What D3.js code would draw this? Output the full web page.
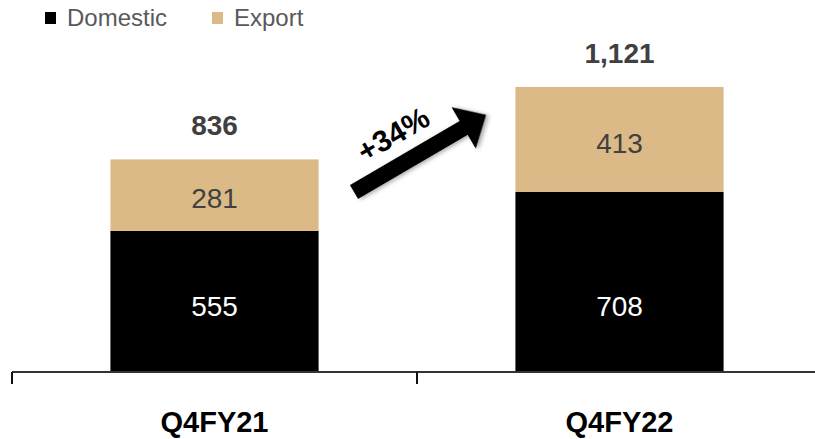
<!DOCTYPE html>
<html>
<head>
<meta charset="utf-8">
<script src="https://cdn.jsdelivr.net/npm/d3@7"></script>
<style>
  body { margin: 0; background: #fff; }
  svg { display: block; font-family: "Liberation Sans", Arial, sans-serif; }
</style>
</head>
<body>
<script>
// chart data
const categories = ["Q4FY21", "Q4FY22"];
const domestic = [555, 708];
const exportVals = [281, 413];
const totals = ["836", "1,121"];
const seriesNames = ["Domestic", "Export"];
const growthLabel = "+34%";

const W = 815, H = 439;
const colors = { Domestic: "#000000", Export: "#dbba87" };

const svg = d3.select("body").append("svg").attr("width", W).attr("height", H);

// scales
const x = d3.scaleBand().domain(categories).range([12, 822])
  .paddingInner(0.486).paddingOuter(0.243);
const y = d3.scaleLinear().domain([0, 1400]).range([372, 16]);

const rows = categories.map((c, i) => ({
  cat: c, Domestic: domestic[i], Export: exportVals[i], total: totals[i]
}));
const stacked = d3.stack().keys(seriesNames)(rows);

// bars
svg.append("g").selectAll("g")
  .data(stacked)
  .join("g")
  .attr("fill", d => colors[d.key])
  .selectAll("rect")
  .data(d => d)
  .join("rect")
  .attr("x", d => x(d.data.cat))
  .attr("y", d => y(d[1]))
  .attr("width", x.bandwidth())
  .attr("height", d => y(d[0]) - y(d[1]));

// segment labels (domestic labels sit at a common height near the base)
stacked.forEach(s => {
  svg.append("g").selectAll("text")
    .data(s)
    .join("text")
    .attr("x", d => x(d.data.cat) + x.bandwidth() / 2)
    .attr("y", d => s.key === "Domestic" ? y(0) - 66 : (y(d[0]) + y(d[1])) / 2 + 3)
    .attr("dy", "0.36em")
    .attr("text-anchor", "middle")
    .attr("font-size", 28)
    .attr("fill", s.key === "Domestic" ? "#ffffff" : "#404040")
    .text(d => d[1] - d[0]);
});

// total labels
svg.append("g").selectAll("text")
  .data(rows)
  .join("text")
  .attr("x", d => x(d.cat) + x.bandwidth() / 2)
  .attr("y", d => y(d.Domestic + d.Export) - 24)
  .attr("text-anchor", "middle")
  .attr("font-size", 28)
  .attr("font-weight", "bold")
  .attr("fill", "#404040")
  .text(d => d.total);

// axis line with ticks at category boundaries
const axisY = y(0);
svg.append("line")
  .attr("x1", 12).attr("x2", W)
  .attr("y1", axisY).attr("y2", axisY)
  .attr("stroke", "#333").attr("stroke-width", 2);
const step = x.step();
const bounds = categories.map(c => x(c) - x.paddingOuter() * step);
svg.append("g").selectAll("line")
  .data(bounds)
  .join("line")
  .attr("x1", d => d).attr("x2", d => d)
  .attr("y1", axisY).attr("y2", axisY + 12)
  .attr("stroke", "#111").attr("stroke-width", 2);

// category labels
svg.append("g").selectAll("text")
  .data(categories)
  .join("text")
  .attr("x", d => x(d) + x.bandwidth() / 2)
  .attr("y", 432)
  .attr("text-anchor", "middle")
  .attr("font-size", 29)
  .attr("font-weight", "bold")
  .attr("fill", "#000")
  .text(d => d);

// legend
const legendX = [45, 212];
const legend = svg.append("g").selectAll("g")
  .data(seriesNames)
  .join("g")
  .attr("transform", (d, i) => "translate(" + legendX[i] + ",12)");
legend.append("rect")
  .attr("width", 11).attr("height", 12)
  .attr("fill", d => colors[d]);
legend.append("text")
  .attr("x", 22).attr("y", 14)
  .attr("font-size", 24)
  .attr("fill", "#595959")
  .text(d => d);

// growth arrow
const defs = svg.append("defs");
const f = defs.append("filter").attr("id", "shadow")
  .attr("x", "-20%").attr("y", "-20%").attr("width", "140%").attr("height", "140%");
f.append("feDropShadow").attr("dx", 2).attr("dy", 2).attr("stdDeviation", 2)
  .attr("flood-color", "#000").attr("flood-opacity", 0.35);

const arrow = svg.append("g")
  .attr("transform", "translate(354,192) rotate(-30.3)");
const len = 153, shaft = 16, head = 48, headLen = 26;
arrow.append("path")
  .attr("d", d3.line()([
    [0, -shaft / 2], [len - headLen, -shaft / 2], [len - headLen, -head / 2],
    [len, 0], [len - headLen, head / 2], [len - headLen, shaft / 2], [0, shaft / 2]
  ]) + "Z")
  .attr("fill", "#000")
  .attr("filter", "url(#shadow)");

svg.append("text")
  .attr("transform", "translate(393,134) rotate(-30.3)")
  .attr("text-anchor", "middle")
  .attr("dy", "0.36em")
  .attr("font-size", 30)
  .attr("font-weight", "bold")
  .attr("fill", "#000")
  .text(growthLabel);
</script>
</body>
</html>
